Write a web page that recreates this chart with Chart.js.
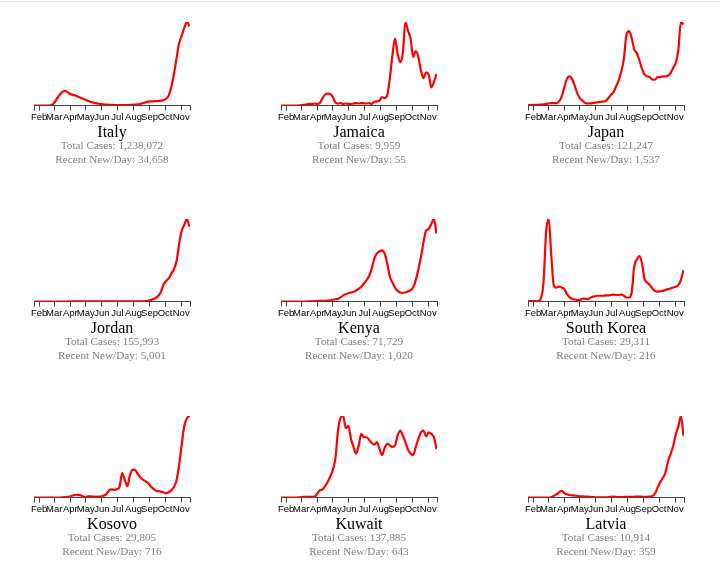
<!DOCTYPE html>
<html>
<head>
<meta charset="utf-8">
<script src="https://cdn.jsdelivr.net/npm/chart.js@4/dist/chart.umd.min.js"></script>
<style>
	body { margin: 0; background: #fff; }
	#page { position: relative; width: 720px; height: 583px; overflow: hidden; }
	#topline { position: absolute; left: 0; top: 1px; width: 720px; height: 1px; background: #e6e6e6; }
	.panel canvas { position: absolute; }
	.txt { position: absolute; width: 240px; text-align: center; font-family: "Liberation Serif", "Times New Roman", serif; white-space: nowrap; }
	.name { font-size: 16px; line-height: 16px; color: #000; }
	.info { font-size: 11.2px; line-height: 12px; color: #808080; }
</style>
</head>
<body>
<div id="page"><div id="topline"></div></div>
<script>

// days since Jan 22, sampled every 5 days
var days = [0, 5, 10, 15, 20, 25, 30, 35, 40, 45, 50, 55, 60, 65, 70, 75, 80, 85, 90, 95,
	100, 105, 110, 115, 120, 125, 130, 135, 140, 145, 150, 155, 160, 165, 170, 175, 180, 185, 190, 195,
	200, 205, 210, 215, 220, 225, 230, 235, 240, 245, 250, 255, 260, 265, 270, 275, 280, 285, 290, 295, 300];

// new cases per day (smoothed)
var italy = [0, 0, 0, 0, 0, 0, 110, 370, 1490, 3360, 4850, 5970, 6490, 5780, 5040, 4660, 4400, 3920, 3430, 2980,
	2460, 2010, 1570, 1270, 1040, 820, 630, 520, 410, 340, 300, 260, 220, 220, 220, 220, 260, 300, 370, 450,
	520, 750, 1040, 1420, 1720, 1830, 1870, 1940, 2010, 2160, 2390, 2980, 4480, 8210, 13800, 20520, 27230, 30590, 33940, 36550, 34658];
var jamaica = [0, 0, 0, 0, 0, 0, 0, 0.3, 0.7, 1.5, 2.2, 2.9, 2.9, 3.7, 2.9, 4.4, 13, 19, 21, 20,
	15, 5.1, 3.7, 4.4, 2.9, 3.7, 2.9, 2.6, 3.7, 4.4, 3.7, 4.4, 4.1, 3.7, 4.4, 2.9, 6.6, 7.3, 8.8, 15,
	13, 18, 48, 88, 117, 91, 76, 91, 146, 131, 117, 85, 95, 85, 61, 48, 58, 54, 32, 41, 55];
var japan = [8, 8, 13, 16, 16, 19, 24, 32, 40, 48, 48, 48, 79, 174, 349, 507, 555, 507, 380, 238,
	143, 95, 55, 40, 43, 48, 55, 63, 71, 76, 87, 143, 206, 254, 365, 476, 650, 888, 1347, 1411,
	1284, 1062, 999, 856, 697, 586, 555, 539, 491, 491, 539, 539, 555, 555, 571, 618, 713, 808, 1046, 1585, 1537];
var jordan = [0, 0, 0, 0, 0, 0, 0, 0, 0, 0, 0, 0, 0, 11, 11, 11, 11, 11, 11, 11,
	11, 11, 11, 11, 11, 11, 11, 11, 11, 11, 11, 11, 11, 17, 17, 17, 17, 17, 17, 17,
	17, 17, 17, 28, 55, 99, 166, 248, 386, 662, 1159, 1380, 1546, 1877, 2153, 2705, 3864, 4747, 5134, 5520, 5001];
var kenya = [0, 0, 0, 0, 0, 0, 0, 0, 0, 0, 2.5, 3.7, 4.9, 6.2, 8.7, 9.9, 11, 12, 15, 19,
	27, 35, 40, 62, 93, 111, 124, 136, 148, 167, 192, 222, 272, 321, 383, 494, 643, 717, 754, 766,
	717, 569, 371, 284, 210, 161, 136, 130, 136, 155, 173, 210, 321, 482, 667, 890, 1063, 1088, 1162, 1236, 1020];
var southKorea = [3, 3, 3, 3, 3, 23, 136, 480, 565, 311, 107, 96, 102, 96, 85, 51, 31, 20, 14, 11,
	11, 20, 20, 17, 25, 34, 37, 40, 40, 40, 42, 42, 45, 48, 45, 45, 48, 40, 28, 28,
	62, 243, 288, 311, 260, 153, 130, 113, 90, 73, 68, 71, 73, 79, 85, 90, 96, 102, 113, 147, 216];
var kosovo = [0, 0, 0, 0, 0, 0, 0, 0, 0, 0, 0, 2, 4, 7, 11, 18, 25, 24, 20, 9,
	7, 11, 11, 9, 7, 9, 11, 18, 32, 64, 72, 68, 75, 93, 215, 158, 100, 193, 243, 243,
	208, 179, 158, 143, 129, 100, 79, 61, 56, 53, 47, 39, 47, 64, 93, 150, 286, 465, 630, 695, 716];
var kuwait = [0, 0, 0, 0, 0, 0, 0, 3, 7, 9, 9, 11, 11, 13, 54, 98, 108, 152, 206, 282,
	369, 520, 889, 1062, 1084, 921, 954, 780, 672, 585, 694, 846, 802, 802, 770, 726, 705, 737, 650, 564,
	661, 715, 694, 672, 694, 824, 889, 824, 737, 640, 585, 564, 672, 780, 867, 889, 813, 867, 846, 802, 643];
var latvia = [0, 0, 0, 0, 0, 0, 0, 0, 0, 2, 10, 19, 31, 40, 26, 19, 15, 13, 12, 10,
	8, 7, 6, 6, 4, 3, 2, 2, 2, 2, 2, 3, 5, 6, 4, 3, 3, 4, 5, 4,
	4, 5, 6, 6, 5, 4, 5, 6, 9, 24, 57, 90, 114, 143, 209, 252, 299, 366, 413, 475, 359];

var countries = ['Italy', 'Jamaica', 'Japan', 'Jordan', 'Kenya', 'South Korea', 'Kosovo', 'Kuwait', 'Latvia'];
var totalCases = ['1,238,072', '9,959', '121,247', '155,993', '71,729', '29,311', '29,805', '137,885', '10,914'];
var recentNew = ['34,658', '55', '1,537', '5,001', '1,020', '216', '716', '643', '359'];

// month starts (days since Jan 22) and their labels
var monthDays = [10, 39, 70, 100, 131, 161, 192, 223, 253, 284];
var monthLabels = ['Feb', 'Mar', 'Apr', 'May', 'Jun', 'Jul', 'Aug', 'Sep', 'Oct', 'Nov'];
var lastDay = 301;

var series = [italy, jamaica, japan, jordan, kenya, southKorea, kosovo, kuwait, latvia];

// grid placement
var colX = [34, 281, 528];
var plotTop = [22, 219, 416];
var baseY = [107, 303, 499];
var plotW = 156;
var padX = 12, padTop = 4, axisH = 17;

var page = document.getElementById('page');

function addText(cls, text, cx, top) {
	var d = document.createElement('div');
	d.className = 'txt ' + cls;
	d.textContent = text;
	d.style.left = (cx - 120) + 'px';
	d.style.top = top + 'px';
	page.appendChild(d);
}

function makePanel(i) {
	var row = Math.floor(i / 3), col = i % 3;
	var values = series[i];
	var h = baseY[row] - plotTop[row];

	var canvas = document.createElement('canvas');
	canvas.width = plotW + 2 * padX;
	canvas.height = h + padTop + axisH;
	canvas.style.left = (colX[col] - padX) + 'px';
	canvas.style.top = (plotTop[row] - padTop) + 'px';
	var wrap = document.createElement('div');
	wrap.className = 'panel';
	wrap.appendChild(canvas);
	page.appendChild(wrap);

	var points = days.map(function(d, k) { return { x: d, y: values[k] }; });

	new Chart(canvas.getContext('2d'), {
		type: 'line',
		data: {
			datasets: [{
				data: points,
				borderColor: '#ff0000',
				borderWidth: 2.2,
				pointRadius: 0,
				cubicInterpolationMode: 'monotone',
				fill: false
			}]
		},
		options: {
			responsive: false,
			animation: false,
			layout: { padding: { left: padX, right: padX, top: padTop, bottom: 0 } },
			plugins: { legend: { display: false }, tooltip: { enabled: false } },
			scales: {
				x: {
					type: 'linear',
					min: 0,
					max: lastDay,
					grid: { drawOnChartArea: false, drawTicks: true, tickLength: 5, color: '#444' },
					border: { display: true, color: '#444', width: 1 },
					afterBuildTicks: function(scale) {
						scale.ticks = [0].concat(monthDays, [lastDay]).map(function(v) { return { value: v }; });
					},
					ticks: {
						autoSkip: false,
						maxRotation: 0,
						padding: 1,
						color: '#000',
						font: { family: '"Liberation Sans", Arial, sans-serif', size: 9.5 },
						callback: function(value) {
							var k = monthDays.indexOf(value);
							return k < 0 ? '' : monthLabels[k];
						}
					}
				},
				y: {
					display: false,
					min: 0,
					max: Math.max.apply(null, values)
				}
			}
		}
	});

	var cx = colX[col] + plotW / 2;
	addText('name', countries[i], cx, baseY[row] + 16.5);
	addText('info', 'Total Cases: ' + totalCases[i], cx, baseY[row] + 32);
	addText('info', 'Recent New/Day: ' + recentNew[i], cx, baseY[row] + 45.5);
}

for (var i = 0; i < countries.length; i++) {
	makePanel(i);
}

</script>
</body>
</html>
